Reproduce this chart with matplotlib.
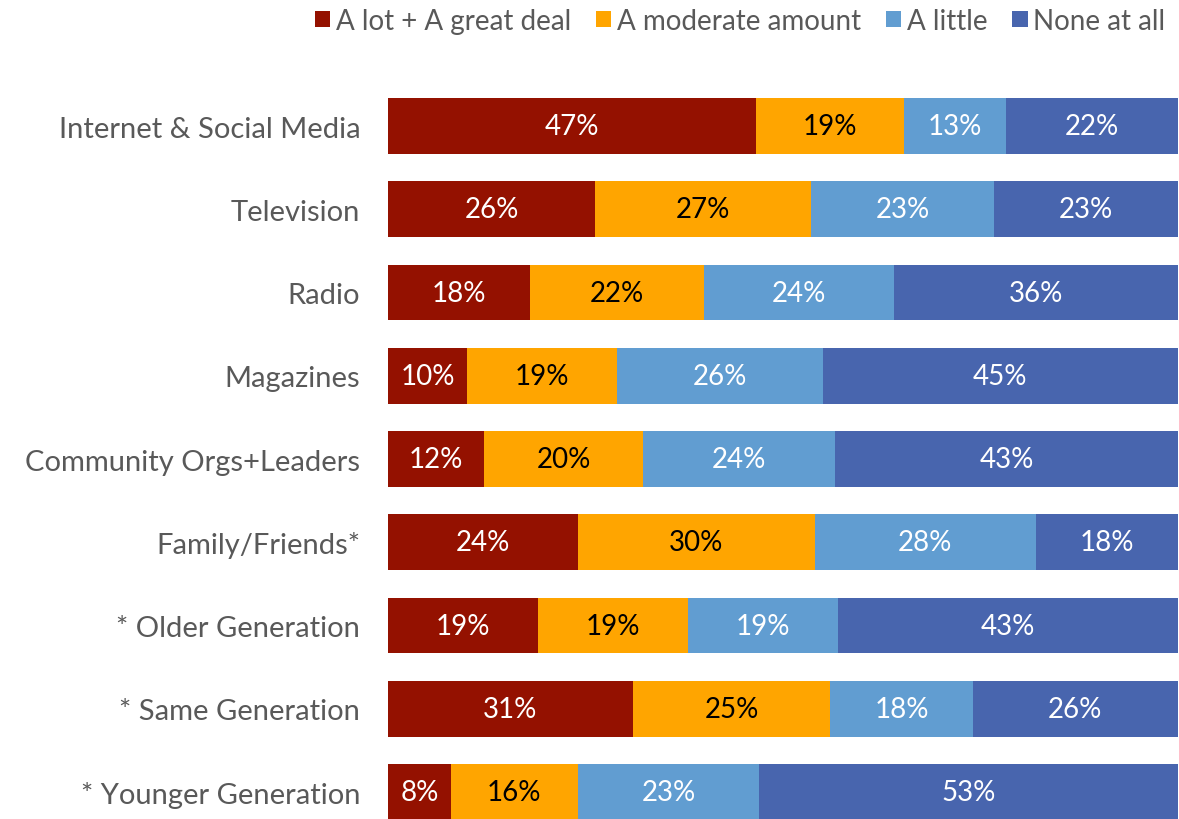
import matplotlib

matplotlib.use("Agg")
import matplotlib.pyplot as plt
import numpy as np

# Survey: how much each source is trusted / used
categories = [
    "Internet & Social Media",
    "Television",
    "Radio",
    "Magazines",
    "Community Orgs+Leaders",
    "Family/Friends*",
    "* Older Generation",
    "* Same Generation",
    "* Younger Generation",
]
series_names = ["A lot + A great deal", "A moderate amount", "A little", "None at all"]
a_lot = [47, 26, 18, 10, 12, 24, 19, 31, 8]
moderate = [19, 27, 22, 19, 20, 30, 19, 25, 16]
little = [13, 23, 24, 26, 24, 28, 19, 18, 23]
none_at_all = [22, 23, 36, 45, 43, 18, 43, 26, 53]

COLORS = ["#941100", "#FFA500", "#619DD1", "#4865AE"]
LABEL_COLORS = ["white", "black", "white", "white"]
GREY = "#595959"
FONT = "Lato"

plt.rcParams["font.family"] = [FONT, "DejaVu Sans"]

fig = plt.figure(figsize=(11.79, 8.20), dpi=100)
ax = fig.add_axes([388 / 1179, 0.0, 790 / 1179, 1 - 85.4 / 820])

data = np.array([a_lot, moderate, little, none_at_all], dtype=float)
totals = data.sum(axis=0)
shares = data / totals  # each bar normalised to 100%
y = np.arange(len(categories))
left = np.zeros(len(categories))

for k, name in enumerate(series_names):
    bars = ax.barh(y, shares[k], left=left, height=0.67, color=COLORS[k],
                   label=name, edgecolor="none")
    for i, rect in enumerate(bars):
        ax.text(left[i] + shares[k][i] / 2, y[i], f"{int(data[k][i])}%",
                ha="center", va="center", color=LABEL_COLORS[k], fontsize=20)
    left += shares[k]

ax.set_xlim(0, 1)
ax.set_ylim(8 + 27 / 83.25, -0.5)
ax.set_yticks(y)
ax.set_yticklabels(categories, fontsize=21, color=GREY)
ax.tick_params(axis="y", length=0, pad=20)
ax.set_xticks([])
for spine in ax.spines.values():
    spine.set_visible(False)

fig.legend(loc="upper right", bbox_to_anchor=(1.005, 1.013), ncol=4, frameon=False,
           fontsize=20, handlelength=0.55, handleheight=0.55, handletextpad=0.2,
           columnspacing=0.9, labelcolor=GREY, borderaxespad=0.3)

fig.savefig("out.png", dpi=100)
